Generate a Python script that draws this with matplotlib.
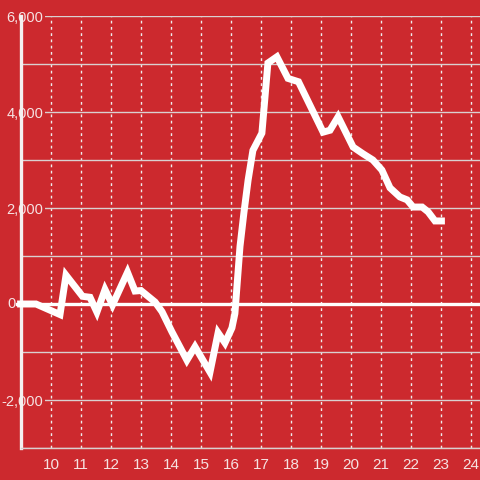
import matplotlib
matplotlib.use('Agg')
import matplotlib.pyplot as plt
import matplotlib.transforms as mtransforms
from matplotlib.ticker import FixedLocator

# values
weeks = [8.87, 9.5, 10.3, 10.5, 11.05, 11.3, 11.53, 11.8, 12.05, 12.55, 12.8,
         13.0, 13.47, 13.7, 14.03, 14.53, 14.8, 15.3, 15.57, 15.8, 16.03,
         16.13, 16.3, 16.43, 16.57, 16.73, 17.03, 17.23, 17.53, 17.9, 18.25,
         19.07, 19.3, 19.57, 20.07, 20.4, 20.73, 21.03, 21.3, 21.63, 21.87,
         22.07, 22.37, 22.57, 22.8, 23.13]
change = [0, 0, -220, 600, 160, 140, -170, 300, -20, 660, 270,
          280, 40, -160, -580, -1170, -890, -1420, -600, -810, -500,
          -200, 1200, 1900, 2580, 3200, 3560, 5020, 5150, 4700, 4630,
          3580, 3620, 3900, 3270, 3130, 3000, 2790, 2420, 2230, 2170,
          2020, 2020, 1920, 1730, 1730]

x_ticks = list(range(10, 25))
y_ticks = list(range(-3000, 7000, 1000))
y_labels = [f'{v:,}' if v and v % 2000 == 0 else '' for v in y_ticks]

bg = '#cc292e'
txt = '#f6e2e2'
plt.rcParams['font.family'] = ['Liberation Sans', 'DejaVu Sans']

fig = plt.figure(figsize=(4.8, 4.8), dpi=100, facecolor=bg)
ax = fig.add_axes([21 / 480, 32 / 480, 459 / 480, 432 / 480], facecolor=bg)

ax.set_xlim(9, 9 + 459 / 30)
ax.set_ylim(-3000, 6000)

ax.xaxis.set_major_locator(FixedLocator(x_ticks))
ax.set_xticklabels([str(t) for t in x_ticks])
ax.yaxis.set_major_locator(FixedLocator(y_ticks))
ax.set_yticklabels(y_labels)

ax.grid(axis='y', color='#d9d0d0', lw=1)
ax.grid(axis='x', color='#eeeeee', lw=1, linestyle=(0, (2, 2.5)))

ax.tick_params(axis='x', length=0, pad=7, labelsize=11, labelcolor=txt)
ax.tick_params(axis='y', length=0, pad=-16, labelsize=10.5, labelcolor=txt)
for lab in ax.get_yticklabels():
    lab.set_horizontalalignment('right')
    lab.set_bbox(dict(facecolor=bg, edgecolor='none', pad=1.5))

# the zero label sits left of the axis line in the original
trans = mtransforms.blended_transform_factory(fig.transFigure, ax.transData)
ax.text(16 / 480, 0, '0', transform=trans, ha='right', va='center',
        fontsize=10.5, color=txt)

for s in ['top', 'right']:
    ax.spines[s].set_visible(False)
ax.spines['left'].set_color('#f4f0f0')
ax.spines['left'].set_linewidth(2.4)
ax.spines['bottom'].set_color('#d9d0d0')
ax.spines['bottom'].set_linewidth(1)

ax.plot([weeks[0], ax.get_xlim()[1]], [0, 0], color='white', lw=2.4,
        zorder=2, clip_on=False)
ax.plot(weeks, change, color='white', lw=5, solid_capstyle='butt',
        solid_joinstyle='miter', zorder=3, clip_on=False)

fig.savefig('out.png', dpi=100, facecolor=bg)
